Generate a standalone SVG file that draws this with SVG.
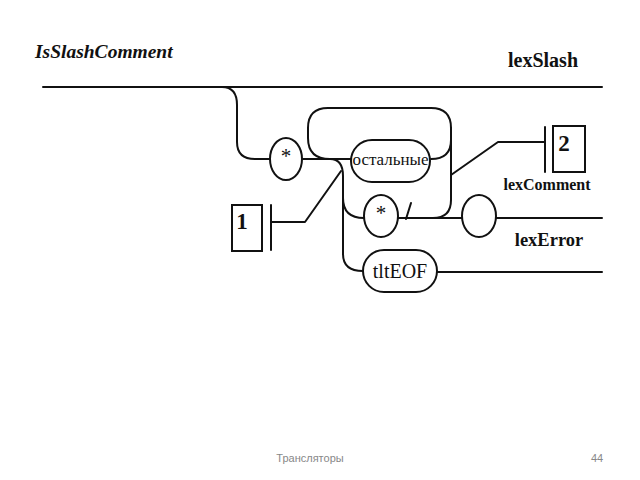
<svg xmlns="http://www.w3.org/2000/svg" width="640" height="480" viewBox="0 0 640 480">
<style>
.ln{fill:none;stroke:#111;stroke-width:2;stroke-linecap:round;stroke-linejoin:round}
.nd{fill:#fff;stroke:#111;stroke-width:2}
.t{font-family:"Liberation Serif","Times New Roman",serif;fill:#111;text-anchor:middle}
.b{font-weight:bold}
.ft{font-family:"Liberation Sans",Arial,sans-serif;font-size:11px;fill:#888}
</style>
<rect width="640" height="480" fill="#fff"/>
<text id="title" class="t b" x="35" y="58" font-size="19.5" font-style="italic" style="text-anchor:start">IsSlashComment</text>
<text id="lexSlash" class="t b" x="543" y="67" font-size="20">lexSlash</text>
<g id="connectors">
<path class="ln" d="M43,87 H602"/>
<path class="ln" d="M222,87 Q237,87 237,105 V142 Q237,159 255,159 H270"/>
<path class="ln" d="M303,159 H351"/>
<path class="ln" d="M431,159 Q451,159 451,140 V128 Q451,108 431,108 H328 Q308,108 308,128 V138 Q308,159 330,159"/>
<path class="ln" d="M451,128 V200 Q451,218 433,218 H398"/>
<path class="ln" d="M433,218 H462"/>
<path class="ln" d="M330,159 Q343,159 343,176 V254 Q343,271 363,271"/>
<path class="ln" d="M343,198 Q343,218 364,218"/>
<path class="ln" d="M271,222 H305 L341,171"/>
<path class="ln" d="M451,175 L498,142 H545"/>
<path class="ln" d="M496,218 H602"/>
<path class="ln" d="M437,272 H602"/>
<path class="ln" d="M406,219 L411,203"/>
<path class="ln" d="M271,205 V250"/>
<path class="ln" d="M545,127 V172"/>
</g>
<g id="star1">
<ellipse class="nd" cx="286" cy="159" rx="16" ry="21"/>
<text class="t" x="286" y="163" font-size="21">*</text>
</g>
<g id="ostalnye">
<rect class="nd" x="351" y="140" width="79" height="42" rx="21"/>
<text class="t" x="390.5" y="165" font-size="17" textLength="76" lengthAdjust="spacingAndGlyphs">остальные</text>
</g>
<g id="star2">
<ellipse class="nd" cx="381" cy="216" rx="17" ry="21"/>
<text class="t" x="381" y="220" font-size="21">*</text>
</g>
<g id="empty">
<ellipse class="nd" cx="479" cy="216" rx="17" ry="21"/>
</g>
<g id="tltEOF">
<rect class="nd" x="363" y="250" width="74" height="42" rx="21"/>
<text class="t" x="400" y="278" font-size="20">tltEOF</text>
</g>
<g id="box1">
<rect class="nd" x="232" y="205" width="30" height="46"/>
<text class="t b" x="242" y="229" font-size="23">1</text>
</g>
<g id="box2">
<rect class="nd" x="553" y="126" width="32" height="46"/>
<text class="t b" x="564" y="151" font-size="23">2</text>
</g>
<text id="lexComment" class="t b" x="547" y="190" font-size="16">lexComment</text>
<text id="lexError" class="t b" x="549" y="246" font-size="18.5">lexError</text>
<text class="ft" x="310" y="462" text-anchor="middle">Трансляторы</text>
<text class="ft" x="597" y="462" text-anchor="middle">44</text>
</svg>
